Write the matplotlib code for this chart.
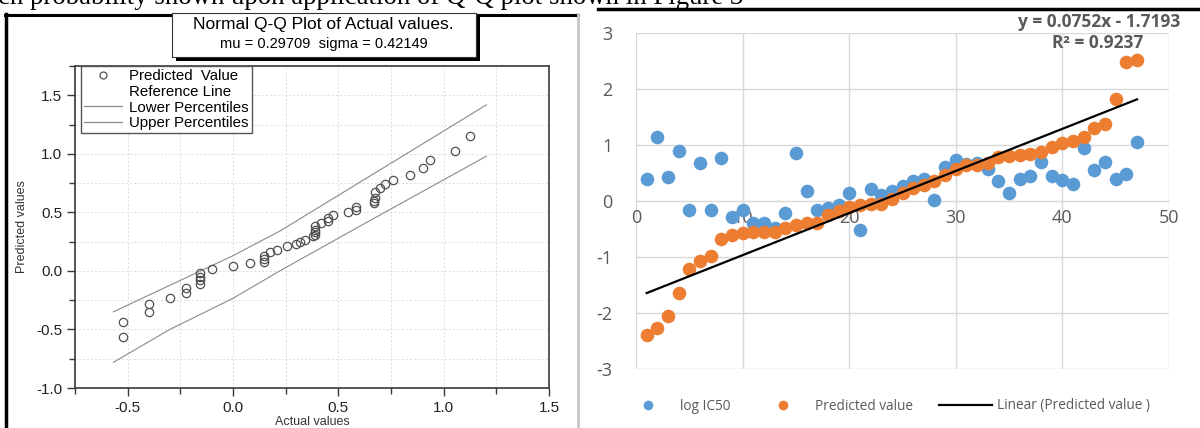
import matplotlib
matplotlib.use("Agg")
import matplotlib.pyplot as plt
from matplotlib.lines import Line2D
from matplotlib.patches import Rectangle
from matplotlib.ticker import MultipleLocator

plt.rcParams["axes.unicode_minus"] = False

W, H = 1200, 428  # canvas in px, used to place things by pixel

# ---- left panel: normal Q-Q plot ----
qq_actual = [-0.524, -0.524, -0.398, -0.398, -0.301, -0.222, -0.222,
             -0.155, -0.155, -0.155, -0.155, -0.098, 0.0, 0.079,
             0.148, 0.148, 0.148, 0.178, 0.207, 0.254, 0.299, 0.32, 0.34,
             0.381, 0.39, 0.39, 0.39, 0.39, 0.416, 0.452, 0.452, 0.476,
             0.548, 0.584, 0.584, 0.667, 0.667, 0.673, 0.673, 0.70, 0.72,
             0.759, 0.84, 0.90, 0.933, 1.052, 1.124]
qq_pred = [-0.434, -0.561, -0.286, -0.351, -0.235, -0.147, -0.187,
           -0.02, -0.048, -0.076, -0.11, 0.014, 0.043, 0.065,
           0.13, 0.10, 0.08, 0.16, 0.18, 0.213, 0.233, 0.25, 0.267,
           0.298, 0.31, 0.33, 0.35, 0.38, 0.41, 0.45, 0.43, 0.48,
           0.50, 0.55, 0.52, 0.58, 0.60, 0.62, 0.67, 0.71, 0.74,
           0.78, 0.82, 0.876, 0.944, 1.026, 1.154]
band_x = [-0.567, -0.3, 0.0, 0.222, 0.6, 1.203]
band_upper = [-0.349, -0.123, 0.13, 0.34, 0.755, 1.418]
band_lower = [-0.78, -0.50, -0.234, 0.0, 0.38, 0.98]
qq_title = "Normal Q-Q Plot of Actual values."
qq_subtitle = "mu = 0.29709  sigma = 0.42149"

# ---- right panel: log IC50 vs predicted ----
compound_no = list(range(1, 48))
log_ic50 = [0.39, 1.14, 0.42, 0.90, -0.16, 0.68, -0.16, 0.76, -0.29, -0.16,
            -0.40, -0.40, -0.48, -0.21, 0.85, 0.18, -0.16, -0.12, -0.08, 0.15,
            -0.51, 0.22, 0.11, 0.17, 0.27, 0.35, 0.40, 0.01, 0.60, 0.73,
            0.66, 0.68, 0.57, 0.35, 0.15, 0.39, 0.45, 0.70, 0.45, 0.375,
            0.30, 0.94, 0.55, 0.69, 0.39, 0.49, 1.06]
predicted = [-2.39, -2.27, -2.05, -1.65, -1.22, -1.08, -0.99, -0.68, -0.61,
             -0.58, -0.56, -0.55, -0.55, -0.49, -0.43, -0.39, -0.39, -0.25,
             -0.17, -0.11, -0.08, -0.06, -0.05, 0.03, 0.14, 0.23, 0.29, 0.35,
             0.46, 0.57, 0.64, 0.65, 0.67, 0.79, 0.80, 0.82, 0.84, 0.88, 0.96,
             1.03, 1.07, 1.14, 1.30, 1.375, 1.83, 2.49, 2.52]
trend_slope, trend_icpt = 0.0752, -1.7193
trend_r2 = 0.9237

BLUE = "#5B9BD5"
ORANGE = "#ED7D31"
GREY_TXT = "#595959"


def fx(px):
    return px / W


def fy(py):
    return 1 - py / H


fig = plt.figure(figsize=(W / 100, H / 100), dpi=100)

# cut-off running text of the page above the figure
fig.text(fx(-2), fy(4), "ch probability shown upon application of Q-Q plot shown in Figure 3",
         family="Liberation Serif", fontsize=19.3, ha="left", va="baseline")

# panel frames
fig.add_artist(Line2D([fx(6), fx(6)], [0, fy(14)], color="black", lw=2.5))
fig.add_artist(Line2D([fx(5), fx(578)], [fy(14.5), fy(14.5)], color="black", lw=2.2))
fig.add_artist(Line2D([fx(578), fx(578)], [0, fy(14)], color="#c8c8c8", lw=2.0))
fig.add_artist(Line2D([fx(598), 1], [fy(9), fy(9)], color="black", lw=2.5))

# ---------------- left ----------------
ax1 = fig.add_axes([fx(75), fy(388), (549 - 75) / W, (388 - 66) / H])
ax1.plot(qq_actual, qq_pred, "o", mfc="none", mec="#505050", ms=6, mew=0.9,
         zorder=3)
ax1.plot(band_x, band_upper, color="#8a8a8a", lw=0.8)
ax1.plot(band_x, band_lower, color="#8a8a8a", lw=0.8)
ax1.set_xlim(-0.75, 1.5)
ax1.set_ylim(-1.0, 1.75)
ax1.set_xticks([-0.5, 0.0, 0.5, 1.0, 1.5])
ax1.set_yticks([-1.0, -0.5, 0.0, 0.5, 1.0, 1.5])
ax1.xaxis.set_minor_locator(MultipleLocator(0.25))
ax1.yaxis.set_minor_locator(MultipleLocator(0.25))
ax1.grid(which="both", ls=(0, (2, 2)), color="#dcdcdc", lw=0.7)
ax1.set_axisbelow(True)
for s in ax1.spines.values():
    s.set_color("#3a3a3a")
    s.set_linewidth(1.2)
ax1.tick_params(which="major", length=6, width=1, color="#3a3a3a", pad=3,
                labelsize=11, labelcolor="#222222")
ax1.tick_params(which="minor", length=4, width=1, color="#3a3a3a")
for lab in ax1.get_xticklabels() + ax1.get_yticklabels():
    lab.set_family("Liberation Sans")
ax1.set_xlabel("Actual values", family="Liberation Sans", fontsize=9,
               color="#333333", labelpad=1)
ax1.set_ylabel("Predicted values", family="Liberation Sans", fontsize=9,
               color="#333333", labelpad=6)

handles = [
    Line2D([], [], ls="none", marker="o", mfc="none", mec="#505050", ms=5, mew=0.9),
    Line2D([], [], ls="none"),
    Line2D([], [], color="#8a8a8a", lw=0.9),
    Line2D([], [], color="#8a8a8a", lw=0.9),
]
labels = ["Predicted  Value", "Reference Line", "Lower Percentiles",
          "Upper Percentiles"]
leg1 = ax1.legend(handles, labels, loc="upper left", bbox_to_anchor=(0.0127, 1.0),
                  borderaxespad=0, fancybox=False, edgecolor="#555555",
                  framealpha=1, handlelength=2.5, handletextpad=0.5,
                  labelspacing=0.12, borderpad=0.2,
                  prop={"family": "Liberation Sans", "size": 10.8})
leg1.get_frame().set_linewidth(1.0)

# title box with drop shadow
fig.add_artist(Rectangle((fx(176), fy(61)), (476 - 172) / W, (57 - 13) / H,
                         transform=fig.transFigure, facecolor="black",
                         edgecolor="none", zorder=5))
fig.add_artist(Rectangle((fx(172), fy(57)), (476 - 172) / W, (57 - 13) / H,
                         transform=fig.transFigure, facecolor="white",
                         edgecolor="#333333", lw=0.8, zorder=6))
fig.text(fx(323), fy(25), qq_title, family="Liberation Sans", fontsize=12.5,
         ha="center", va="center", zorder=7)
fig.text(fx(324), fy(44), qq_subtitle, family="Liberation Sans", fontsize=10.5,
         ha="center", va="center", zorder=7)

# ---------------- right ----------------
ax2 = fig.add_axes([fx(636), fy(369), (1169 - 636) / W, (369 - 33) / H])
ax2.plot(compound_no, log_ic50, "o", color=BLUE, ms=9.8, mec="none", zorder=3)
ax2.plot(compound_no, predicted, "o", color=ORANGE, ms=9.8, mec="none", zorder=4)
tx = [compound_no[0], compound_no[-1]]
ty = [trend_slope * v + trend_icpt for v in tx]
ax2.plot(tx, ty, color="black", lw=1.6, zorder=5)
ax2.set_xlim(0, 50)
ax2.set_ylim(-3, 3)
ax2.set_xticks(range(0, 51, 10))
ax2.set_yticks(range(-3, 4))
ax2.grid(color="#d9d9d9", lw=1.0)
ax2.set_axisbelow(True)
for k in ("top", "right", "left"):
    ax2.spines[k].set_visible(False)
ax2.spines["bottom"].set_position(("data", 0))
ax2.spines["bottom"].set_color("#d9d9d9")
ax2.tick_params(length=0, labelsize=13, labelcolor=GREY_TXT)
ax2.tick_params(axis="x", pad=6)
ax2.tick_params(axis="y", pad=17)
for lab in ax2.get_xticklabels() + ax2.get_yticklabels():
    lab.set_family("Open Sans")

fig.text(fx(1099), fy(22), f"y = {trend_slope}x - {abs(trend_icpt)}",
         family="Open Sans", fontsize=12.5, fontweight="bold", color=GREY_TXT,
         ha="center", va="center")
fig.text(fx(1098), fy(43), f"R² = {trend_r2}", family="Open Sans", fontsize=12.5,
         fontweight="bold", color=GREY_TXT, ha="center", va="center")

h2 = [
    Line2D([], [], ls="none", marker="o", color=BLUE, ms=7, mec="none"),
    Line2D([], [], ls="none", marker="o", color=ORANGE, ms=7, mec="none"),
    Line2D([], [], color="black", lw=1.6),
]
l2 = ["log IC50", "Predicted value", "Linear (Predicted value )"]
fig.legend(h2, l2, loc="center", bbox_to_anchor=(fx(886), fy(406)), ncol=3,
           frameon=False, handlelength=3.9, handletextpad=0.4,
           columnspacing=1.9, labelcolor=GREY_TXT,
           prop={"family": "Open Sans", "size": 9.8})

fig.savefig("out.png", dpi=100)
